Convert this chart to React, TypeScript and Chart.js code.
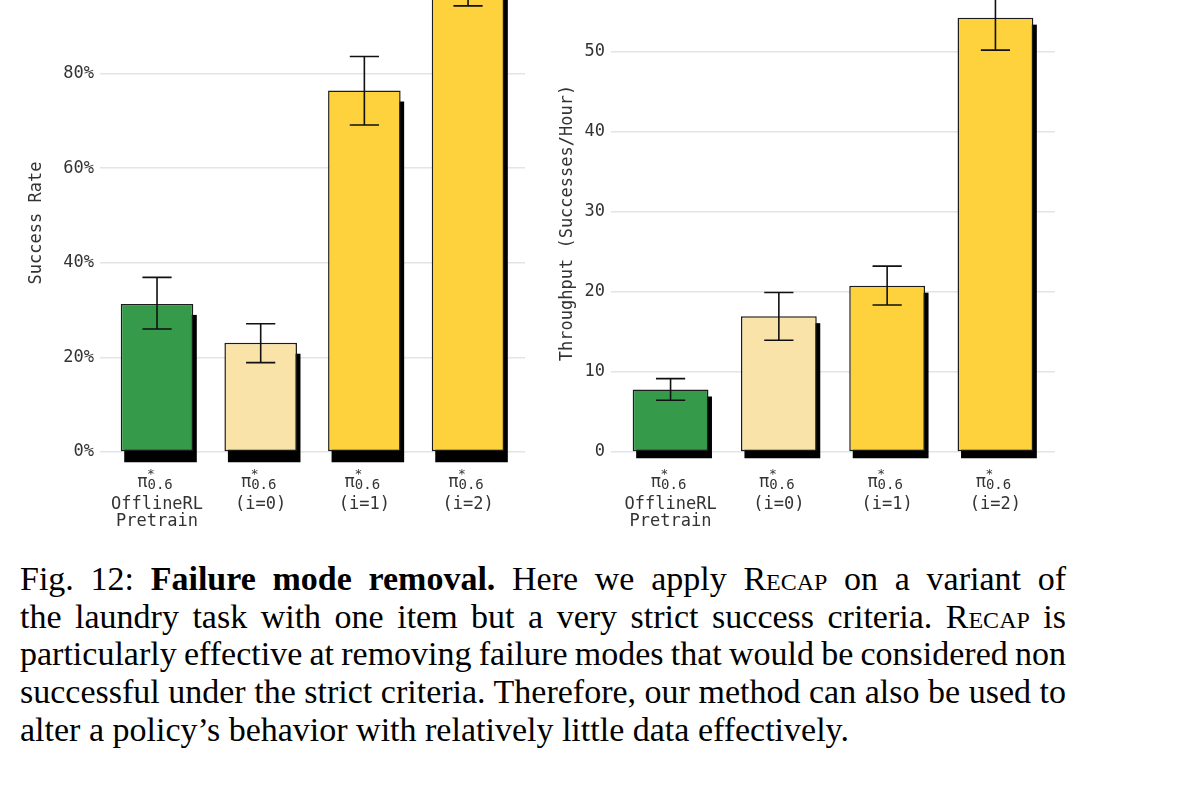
import React, { useEffect, useRef } from "react";
import { Chart, registerables } from "chart.js";

Chart.register(...registerables);

// ---- data ----
const categoryLines: string[][] = [["OfflineRL", "Pretrain"], ["(i=0)"], ["(i=1)"], ["(i=2)"]];
const policySymbol = "π";
const policySup = "*";
const policySub = "0.6";

const successRate = [31.3, 23.1, 76.4, 98.6];
const successLow = [26.0, 18.9, 69.1, 94.3];
const successHigh = [36.9, 27.1, 83.6, 102.9];
const successTicks = [0, 20, 40, 60, 80];

const throughput = [7.8, 16.95, 20.75, 54.2];
const throughputLow = [6.45, 13.95, 18.35, 50.15];
const throughputHigh = [9.15, 19.9, 23.2, 58.3];
const throughputTicks = [0, 10, 20, 30, 40, 50];

const barColors = ["#359b4b", "#f9e3a8", "#fdd23c", "#fdd23c"];

const MONO = "'DejaVu Sans Mono', monospace";
const TEXT = "#333333";

type PanelProps = {
  values: number[];
  low: number[];
  high: number[];
  ticks: number[];
  yMax: number;
  title: string;
  fmt: (v: number) => string;
  left: number;
  width: number;
  yWidth: number;
  titlePad: number;
  padRight: number;
  shadowDy: number;
};

const CANVAS_TOP = -26;
const CANVAS_H = 568;

function Panel(p: PanelProps) {
  const ref = useRef<HTMLCanvasElement>(null);
  useEffect(() => {
    const canvas = ref.current!;
    const shadowPlugin = {
      id: "barShadow",
      beforeDatasetsDraw(chart: any) {
        const ctx = chart.ctx;
        const meta = chart.getDatasetMeta(0);
        ctx.save();
        ctx.fillStyle = "#000";
        meta.data.forEach((el: any) => {
          const { x, y, base, width } = el.getProps(["x", "y", "base", "width"], true);
          ctx.fillRect(x - width / 2 + 3.5, y + p.shadowDy, width, base - y);
        });
        ctx.restore();
      },
    };
    const errPlugin = {
      id: "errBars",
      afterDatasetsDraw(chart: any) {
        const ctx = chart.ctx;
        const xs = chart.scales.x;
        const ys = chart.scales.y;
        ctx.save();
        ctx.strokeStyle = "#111";
        ctx.lineWidth = 1.6;
        p.values.forEach((_, i) => {
          const x = xs.getPixelForValue(i);
          const yl = ys.getPixelForValue(p.low[i]);
          const yh = ys.getPixelForValue(p.high[i]);
          ctx.beginPath();
          ctx.moveTo(x, yl);
          ctx.lineTo(x, yh);
          ctx.moveTo(x - 14.6, yl);
          ctx.lineTo(x + 14.6, yl);
          ctx.moveTo(x - 14.6, yh);
          ctx.lineTo(x + 14.6, yh);
          ctx.stroke();
        });
        ctx.restore();
      },
    };
    const labelPlugin = {
      id: "policyLabels",
      afterDraw(chart: any) {
        const ctx = chart.ctx;
        const xs = chart.scales.x;
        ctx.save();
        ctx.fillStyle = TEXT;
        ctx.textBaseline = "alphabetic";
        categoryLines.forEach((_, i) => {
          const cx = xs.getPixelForValue(i);
          ctx.font = `17px ${MONO}`;
          const wp = ctx.measureText(policySymbol).width;
          ctx.font = `14px ${MONO}`;
          const ws = ctx.measureText(policySub).width;
          const x0 = cx - (wp + ws) / 2 - 2;
          const yb = xs.top + 35;
          ctx.textAlign = "left";
          ctx.font = `17px ${MONO}`;
          ctx.fillText(policySymbol, x0, yb);
          ctx.font = `14px ${MONO}`;
          ctx.fillText(policySub, x0 + wp, yb + 2);
          ctx.textAlign = "center";
          ctx.font = `13px ${MONO}`;
          ctx.fillText(policySup, x0 + wp + 3.5, yb - 9);
        });
        ctx.restore();
      },
    };

    const font = { family: MONO, size: 17 };
    const chart = new Chart(canvas, {
      type: "bar",
      data: {
        datasets: [
          {
            data: p.values.map((v, i) => ({ x: i, y: v })),
            backgroundColor: barColors,
            borderColor: "#1c1c1c",
            borderWidth: 1.5,
            borderSkipped: false,
            barPercentage: 0.7,
            categoryPercentage: 1,
          } as any,
        ],
      },
      options: {
        animation: false,
        responsive: false,
        maintainAspectRatio: false,
        layout: { padding: { top: 20, right: p.padRight, left: 0, bottom: 0 } },
        plugins: { legend: { display: false }, tooltip: { enabled: false } },
        scales: {
          x: {
            type: "linear",
            min: -0.55,
            max: 3.55,
            offset: false,
            grid: { display: false, drawTicks: false },
            border: { display: false },
            afterBuildTicks: (s: any) => {
              s.ticks = categoryLines.map((_, i) => ({ value: i }));
            },
            afterFit: (s: any) => {
              s.height = 90;
            },
            ticks: {
              autoSkip: false,
              maxRotation: 0,
              padding: 44.5,
              color: TEXT,
              font: { family: MONO, size: 17, lineHeight: 1.0 },
              callback: (v: any) => categoryLines[v] ?? "",
            },
          },
          y: {
            min: 0,
            max: p.yMax,
            afterBuildTicks: (s: any) => {
              s.ticks = p.ticks.map((v) => ({ value: v }));
            },
            afterFit: (s: any) => {
              s.width = p.yWidth;
            },
            grid: { color: "#e4e4e4", lineWidth: 1.5, drawTicks: false },
            border: { display: false },
            ticks: {
              padding: 6,
              color: TEXT,
              font,
              callback: (v: any) => p.fmt(Number(v)),
            },
            title: {
              display: true,
              text: p.title,
              color: TEXT,
              font,
              padding: { top: p.titlePad, bottom: 0 },
            },
          },
        },
      } as any,
      plugins: [shadowPlugin, errPlugin, labelPlugin],
    });
    return () => chart.destroy();
  }, []);
  return (
    <canvas
      ref={ref}
      width={p.width}
      height={CANVAS_H}
      style={{ position: "absolute", left: p.left, top: CANVAS_TOP, width: p.width, height: CANVAS_H }}
    />
  );
}

const capLines: React.ReactNode[] = [
  <>
    Fig. 12: <b>Failure mode removal.</b> Here we apply <span style={{ fontVariant: "small-caps" }}>Recap</span> on a variant of
  </>,
  <>
    the laundry task with one item but a very strict success criteria. <span style={{ fontVariant: "small-caps" }}>Recap</span> is
  </>,
  <>particularly effective at removing failure modes that would be considered non</>,
  <>successful under the strict criteria. Therefore, our method can also be used to</>,
  <>alter a policy’s behavior with relatively little data effectively.</>,
];

export default function App() {
  return (
    <div
      style={{
        position: "absolute",
        left: 0,
        top: 0,
        width: 1190,
        height: 800,
        overflow: "hidden",
        background: "#fff",
      }}
    >
      <Panel
        values={successRate}
        low={successLow}
        high={successHigh}
        ticks={successTicks}
        yMax={96.8}
        title="Success Rate"
        fmt={(v) => `${v}%`}
        left={0}
        width={540}
        yWidth={100}
        titlePad={26.5}
        padRight={14}
        shadowDy={11}
      />
      <Panel
        values={throughput}
        low={throughputLow}
        high={throughputHigh}
        ticks={throughputTicks}
        yMax={57.15}
        title="Throughput (Successes/Hour)"
        fmt={(v) => `${v}`}
        left={540}
        width={530}
        yWidth={71}
        titlePad={17.8}
        padRight={15}
        shadowDy={7}
      />
      <div
        style={{
          position: "absolute",
          left: 20,
          top: 560,
          width: 1046,
          fontFamily: "'Liberation Serif', 'Times New Roman', serif",
          fontSize: 34,
          lineHeight: "37.7px",
          color: "#000",
        }}
      >
        {capLines.map((l, i) => (
          <div
            key={i}
            style={{
              whiteSpace: "nowrap",
              textAlign: "justify",
              wordSpacing: i === 2 ? "-1.4px" : undefined,
              textAlignLast: i === capLines.length - 1 ? "left" : "justify",
            }}
          >
            {l}
          </div>
        ))}
      </div>
    </div>
  );
}
